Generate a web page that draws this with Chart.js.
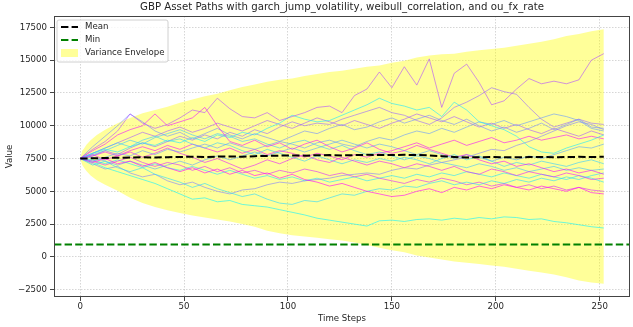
<!DOCTYPE html>
<html><head><meta charset="utf-8">
<script src="https://cdn.jsdelivr.net/npm/chart.js@4.4.1/dist/chart.umd.min.js"></script>
<style>html,body{margin:0;padding:0;background:#fff;overflow:hidden}canvas{display:block}</style>
</head><body>
<canvas id="c" width="633" height="327"></canvas>
<script>
const titleText = 'GBP Asset Paths with garch_jump_volatility, weibull_correlation, and ou_fx_rate';
const xLabel = 'Time Steps';
const yLabel = 'Value';
const xTicks = [0, 50, 100, 150, 200, 250];
const yTicks = [-2500, 0, 2500, 5000, 7500, 10000, 12500, 15000, 17500];
const legendLabels = ['Mean', 'Min', 'Variance Envelope'];

const steps = [0,6,12,18,24,30,36,42,48,54,60,66,72,78,84,90,96,102,108,114,120,126,132,138,144,150,156,162,168,174,180,186,192,198,204,210,216,222,228,234,240,246,252];

const path01 = [7500,8200,8800,9600,10900,10200,9800,10100,10600,11200,11000,12100,11300,10700,10600,11000,10400,10700,11000,11400,11500,11000,12300,12800,14100,12900,14500,13100,15100,11400,14000,14700,13300,11600,11900,12800,13600,13200,13400,13200,13500,15000,15500];
const path02 = [7500,8100,8600,9300,9700,10000,10900,10000,10300,10600,11400,10000,8800,8500,8900,8400,8700,8200,8600,8900,8400,8000,8300,8700,8200,7900,8100,8500,8200,7900,7600,7800,7400,7100,7300,6900,7100,6800,6500,6700,6400,6600,6300];
const path03 = [7500,8400,9200,10000,10900,10300,9600,9200,9500,9000,9400,9800,9300,9000,9400,9100,8800,9200,9600,9400,9800,10100,9700,9900,10300,10600,10200,10500,10800,10400,10100,10500,10000,9600,9900,9500,9800,10200,9700,10100,10500,9900,9800];
const path04 = [7500,7900,8200,8000,8400,8700,8500,8900,8700,9100,8800,9300,9100,9500,9300,9800,10200,10800,10500,10300,10400,10800,11200,11600,12100,11700,11500,11200,11400,10700,11800,11200,10300,10000,9700,9200,8400,8000,7900,8300,8600,8900,9300];
const path05 = [7500,7700,8100,7800,8300,8700,8400,8800,9200,8900,9300,9000,9500,9200,9700,9400,9900,10300,10000,10200,10100,10500,10800,11100,11400,11000,10800,10400,10100,10600,11400,11800,12300,12900,12600,12400,11400,10500,9900,10200,10500,10200,10100];
const path06 = [7500,7300,7600,7900,7700,8100,7800,8200,8000,8300,8600,8300,8700,8400,8200,8500,8800,8600,8300,8700,8900,8600,8400,8800,9100,8900,9300,9600,9400,9800,9500,9900,10300,10100,10400,10000,10300,10600,10900,10700,10400,9800,9600];
const path07 = [7500,7800,7400,7700,8000,7600,7900,8300,7900,7600,7200,7500,7100,6700,7000,7400,7100,7500,7800,7400,7200,7600,7300,7000,7300,7100,6800,7100,6900,6600,6900,6500,6300,6700,6500,6200,6500,6300,6100,6400,6200,5900,6000];
const path08 = [7500,7200,7500,7100,7300,6900,7200,6800,6500,6800,6400,6700,6300,6600,6200,6400,6000,6300,5900,5700,5400,5600,5300,5000,4800,4600,4700,5000,5200,4900,5300,5100,5400,5200,5500,5300,5100,5400,5200,5000,5300,4900,4800];
const path09 = [7500,7200,6800,6500,6200,5900,5600,5200,4800,4400,4500,4200,4300,4000,3900,3800,3600,3400,3200,2950,2800,2650,2500,2350,2750,2800,2700,2850,2900,2800,2950,2850,3000,2900,3050,3000,2850,2900,2700,2600,2450,2300,2200];
const path10 = [7500,7000,7300,6800,6500,6800,6300,6000,5700,5300,5600,5200,4900,4600,4800,4400,4100,4000,4300,4200,4500,4800,4700,5000,5200,5100,5400,5300,5600,5800,5500,5700,5500,5800,5600,5900,5700,6000,5800,6100,5900,6200,6400];
const path11 = [7500,7100,6700,6900,6400,6100,6300,5800,5500,5700,5300,5000,4800,5100,5200,5500,5700,5600,5800,5900,6000,6200,6300,6400,6300,6600,6800,6700,7000,7200,7400,7600,7900,8200,8100,8500,8800,9200,9600,10000,10300,10100,9700];
const path12 = [7500,7900,8300,8700,8400,8900,9200,8800,9000,8600,8300,8700,8500,8100,7800,8200,7900,7600,7300,7700,7400,7100,7400,7200,7500,7300,7600,7400,7100,7500,7800,7400,7700,7300,6900,7200,7000,7300,7100,6900,7200,7400,7100];
const path13 = [7500,7800,8100,8500,8900,8600,9100,9400,9700,9300,9000,9400,9200,8800,9000,8600,8300,8700,8900,8500,8200,8500,8100,7800,8000,7700,7400,7700,7500,7200,7000,6800,7100,6900,6600,6800,6500,6700,6900,6600,6800,6600,6700];
const path14 = [7500,7300,7000,7300,7600,7200,6900,7200,7000,6600,6900,6500,6800,6400,6600,6300,6600,6400,6700,6500,6200,6400,6100,6300,6000,5800,5600,5900,5700,6000,5800,5500,5700,5400,5600,5300,5500,5200,5400,5100,5300,5100,5000];
const path15 = [7500,7700,8000,7700,8100,8400,8100,8500,8200,8600,8300,8000,8300,7900,8200,7800,8100,7900,7600,7900,7700,7400,7800,7600,7900,8100,8400,8700,8300,8600,8900,8500,8800,9100,8700,8900,9200,8900,9100,9300,9000,9200,9000];
const path16 = [7500,7600,7300,7000,7300,7000,6700,7000,7300,7000,7400,7700,7400,7700,8000,7700,8000,8300,8000,8300,8600,8900,8600,8300,8600,8400,8100,7800,8100,7800,7500,7800,7600,7300,7600,7400,7700,7500,7800,8100,8400,8300,8600];
const path17 = [7500,7400,7100,7400,7100,6800,7100,6800,6600,6900,6600,6300,6600,6300,6000,6200,5900,6100,5800,6000,5700,5900,6100,5800,6000,6200,6000,6300,6100,6400,6200,6500,6300,6100,6400,6200,6000,6300,6100,5900,6200,6000,5700];
const path18 = [7500,7900,8300,8700,9100,9500,9200,9600,9900,9500,9800,10200,9900,9600,10000,10400,10100,9800,10200,10600,10300,10000,10400,10100,9800,10200,10500,10900,10600,10300,10700,10300,9900,10200,9800,10100,9700,9400,9800,9500,9200,9600,9300];
const pathShades = [0.7,0.95,0.45,0.1,0.6,0.4,0.9,1.0,0.05,0.15,0.5,0.2,0.25,0.85,0.95,0.35,0.12,0.65];

const meanValues = [7500,7520,7540,7560,7580,7600,7580,7600,7620,7640,7620,7650,7660,7640,7680,7700,7720,7740,7720,7750,7760,7740,7760,7780,7770,7760,7780,7770,7740,7680,7620,7580,7600,7620,7600,7590,7610,7620,7600,7610,7630,7620,7630];
const minValue = 940;

const envSteps = [0,1,2,3,5,8,12,18,24,30,36,42,48,54,60,66,72,78,84,90,96,102,108,114,120,126,132,138,144,150,156,162,168,174,180,186,192,198,204,210,216,222,228,234,240,246,252];
const envUpper = [7500,8100,8300,8550,8900,9300,9700,10200,10600,10950,11200,11450,11750,12000,12250,12450,12700,12950,13150,13350,13500,13600,13800,13950,14100,14200,14350,14500,14600,14800,14950,15200,15350,15450,15500,15650,15750,15850,15950,16100,16250,16400,16600,16850,17000,17200,17350];
const envLower = [7500,7000,6750,6550,6200,5850,5500,5050,4500,4100,3800,3550,3350,3150,3000,2850,2700,2500,2300,2000,1800,1650,1550,1450,1350,1250,1100,900,700,500,350,100,-50,-200,-350,-450,-550,-650,-750,-900,-1050,-1200,-1350,-1550,-1800,-1950,-2050];

const paths = [path01,path02,path03,path04,path05,path06,path07,path08,path09,path10,path11,path12,path13,path14,path15,path16,path17,path18];

const X_MIN = -12.6, X_MAX = 264.6, Y_MIN = -3060, Y_MAX = 18370;
const FONT = '"DejaVu Sans", "Liberation Sans", sans-serif';
const TXT = '#262626';
const envFill = 'rgba(255,255,0,0.4)';
const dashPat = [7.4, 3.2];
const gridColor = 'rgba(176,176,176,0.65)';

function pts(xs, ys) { return ys.map((v, i) => ({x: xs[i], y: v})); }
function cool(t, a) { return 'rgba(' + Math.round(255*t) + ',' + Math.round(255*(1-t)) + ',255,' + a + ')'; }
function fmt(v) { return v < 0 ? '\u2212' + Math.abs(v) : String(v); }

const datasets = [];
datasets.push({data: pts(envSteps, envUpper), fill: '+1', backgroundColor: envFill, borderWidth: 0, pointRadius: 0, order: 100});
datasets.push({data: pts(envSteps, envLower), fill: false, borderWidth: 0, pointRadius: 0, order: 101});
paths.forEach((p, k) => datasets.push({data: pts(steps, p), borderColor: cool(pathShades[k], 0.6), borderWidth: 1, pointRadius: 0, fill: false, order: 50}));
datasets.push({data: pts(steps, meanValues), borderColor: '#000', borderWidth: 2, borderDash: dashPat, pointRadius: 0, fill: false, order: 2});
datasets.push({data: [{x: X_MIN, y: minValue}, {x: X_MAX, y: minValue}], borderColor: '#008000', borderWidth: 2, borderDash: dashPat, pointRadius: 0, fill: false, order: 1});

const decor = {
  id: 'decor',
  afterDraw(chart) {
    const ctx = chart.ctx, a = chart.chartArea;
    ctx.save();
    ctx.strokeStyle = '#444'; ctx.lineWidth = 1; ctx.setLineDash([]);
    ctx.strokeRect(a.left + 0.5, a.top + 0.5, a.right - a.left - 1, a.bottom - a.top - 1);
    ctx.fillStyle = TXT;
    ctx.textAlign = 'center'; ctx.textBaseline = 'middle';
    ctx.font = '10.2px ' + FONT;
    ctx.fillText(titleText, (a.left + a.right) / 2, 7);
    ctx.font = '8.6px ' + FONT;
    ctx.fillText(xLabel, (a.left + a.right) / 2, 319);
    ctx.save();
    ctx.translate(9.5, (a.top + a.bottom) / 2);
    ctx.rotate(-Math.PI / 2);
    ctx.fillText(yLabel, 0, 0);
    ctx.restore();
    // legend
    const bx = 57, by = 20, bw = 111, bh = 42, r = 2;
    ctx.beginPath();
    ctx.moveTo(bx + r, by); ctx.lineTo(bx + bw - r, by); ctx.arcTo(bx + bw, by, bx + bw, by + r, r);
    ctx.lineTo(bx + bw, by + bh - r); ctx.arcTo(bx + bw, by + bh, bx + bw - r, by + bh, r);
    ctx.lineTo(bx + r, by + bh); ctx.arcTo(bx, by + bh, bx, by + bh - r, r);
    ctx.lineTo(bx, by + r); ctx.arcTo(bx, by, bx + r, by, r); ctx.closePath();
    ctx.fillStyle = 'rgba(255,255,255,0.8)'; ctx.fill();
    ctx.strokeStyle = '#d0d0d0'; ctx.lineWidth = 1; ctx.stroke();
    const rows = [27, 40, 53];
    ctx.lineWidth = 2; ctx.setLineDash(dashPat);
    ctx.strokeStyle = '#000'; ctx.beginPath(); ctx.moveTo(61, rows[0]); ctx.lineTo(78, rows[0]); ctx.stroke();
    ctx.strokeStyle = '#008000'; ctx.beginPath(); ctx.moveTo(61, rows[1]); ctx.lineTo(78, rows[1]); ctx.stroke();
    ctx.setLineDash([]);
    ctx.fillStyle = envFill; ctx.fillRect(61, rows[2] - 4, 17, 8);
    ctx.fillStyle = TXT; ctx.textAlign = 'left'; ctx.font = '8.6px ' + FONT;
    legendLabels.forEach((t, i) => ctx.fillText(t, 85, rows[i]));
    ctx.restore();
  }
};

new Chart(document.getElementById('c'), {
  type: 'line',
  data: {datasets},
  options: {
    responsive: false, animation: false, events: [],
    layout: {padding: {top: 16, right: 3, bottom: 0, left: 0}},
    elements: {line: {tension: 0}},
    plugins: {legend: {display: false}, tooltip: {enabled: false}, title: {display: false}},
    scales: {
      x: {
        type: 'linear', min: X_MIN, max: X_MAX,
        afterBuildTicks: s => { s.ticks = xTicks.map(v => ({value: v})); },
        afterFit: s => { s.height = 30; },
        ticks: {font: {family: FONT, size: 8.6}, color: TXT, padding: 1, maxRotation: 0, autoSkip: false, callback: v => fmt(v)},
        grid: {color: gridColor, lineWidth: 0.8, tickLength: 4, tickColor: '#444', tickWidth: 1, tickBorderDash: []},
        border: {display: false, dash: [1.5, 1.5]}
      },
      y: {
        type: 'linear', min: Y_MIN, max: Y_MAX,
        afterBuildTicks: s => { s.ticks = yTicks.map(v => ({value: v})); },
        afterFit: s => { s.width = 54; },
        ticks: {font: {family: FONT, size: 8.6}, color: TXT, padding: 3, autoSkip: false, callback: v => fmt(v)},
        grid: {color: gridColor, lineWidth: 0.8, tickLength: 4, tickColor: '#444', tickWidth: 1, tickBorderDash: []},
        border: {display: false, dash: [1.5, 1.5]}
      }
    }
  },
  plugins: [decor]
});
</script>
</body></html>
